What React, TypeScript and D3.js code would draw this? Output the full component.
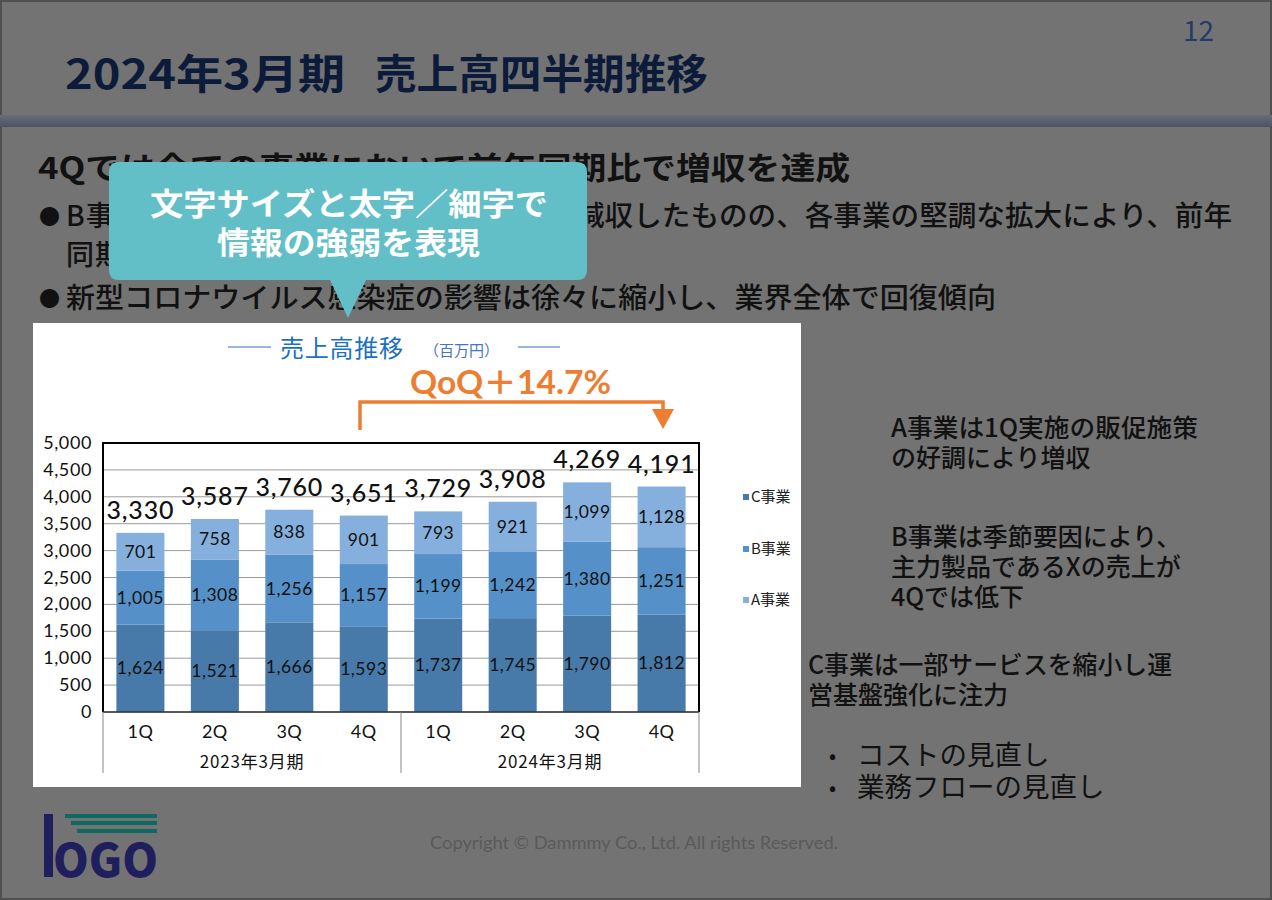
import React from "react";
import * as d3 from "d3";

const quarters = ["1Q", "2Q", "3Q", "4Q", "1Q", "2Q", "3Q", "4Q"];
const fiscalGroups = ["2023年3月期", "2024年3月期"];
const seriesNames = ["C事業", "B事業", "A事業"];
const cValues = [1624, 1521, 1666, 1593, 1737, 1745, 1790, 1812];
const bValues = [1005, 1308, 1256, 1157, 1199, 1242, 1380, 1251];
const aValues = [701, 758, 838, 901, 793, 921, 1099, 1128];
const yTicks = [0, 500, 1000, 1500, 2000, 2500, 3000, 3500, 4000, 4500, 5000];
const seriesColors = ["#4779a9", "#5591c8", "#85afdc"];

const W = 1272;
const H = 900;
const plot = { left: 103, right: 699, top: 443, bottom: 712 };
const jp = "'Noto Sans CJK JP', 'Noto Sans', sans-serif";
const num = "Lato, 'Noto Sans CJK JP', sans-serif";

export default function App() {
  const keys = quarters.map((_, i) => String(i));
  const x = d3.scaleBand<string>().domain(keys).range([plot.left, plot.right]).paddingInner(0.355).paddingOuter(0.18);
  const y = d3.scaleLinear().domain([0, 5000]).range([plot.bottom, plot.top]);
  const rows = quarters.map((_, i) => ({ i: String(i), c: cValues[i], b: bValues[i], a: aValues[i] }));
  const stacked = d3.stack<any>().keys(["c", "b", "a"])(rows);
  const totals = rows.map((r) => r.c + r.b + r.a);
  const fmt = d3.format(",");
  const step = (plot.right - plot.left) / quarters.length;
  const sepXs = [plot.left, plot.left + step * 4, plot.right];

  const qoqStart = 360;
  const qoqEnd = 663;
  const legendY = [497, 549, 600];

  return (
    <div style={{ position: "absolute", left: 0, top: 0 }}>
      <svg width={W} height={H} viewBox={`0 0 ${W} ${H}`} style={{ display: "block" }}>
        <defs>
          <linearGradient id="band" x1="0" y1="0" x2="0" y2="1">
            <stop offset="0" stopColor="#696d78" />
            <stop offset="1" stopColor="#4b5366" />
          </linearGradient>
        </defs>
        {/* slide background (dimmed) */}
        <rect x={0} y={0} width={W} height={H} fill="#737373" />
        <rect x={1} y={1} width={W - 2} height={H - 2} fill="none" stroke="#505050" strokeWidth={2} />
        <text x={1214} y={41} textAnchor="end" fontFamily={jp} fontSize={28} fill="#25396a">12</text>
        <text x={65} y={89} fontFamily={jp} fontSize={41} fontWeight={700} fill="#0d1b3b" textLength={280} lengthAdjust="spacingAndGlyphs">
          2024年3月期
        </text>
        <text x={375} y={89} fontFamily={jp} fontSize={41} fontWeight={700} fill="#0d1b3b" textLength={333} lengthAdjust="spacingAndGlyphs">
          売上高四半期推移
        </text>
        <rect x={0} y={115} width={W} height={12} fill="url(#band)" />

        <text x={38} y={179} fontFamily={jp} fontSize={31} fontWeight={700} fill="#111" textLength={812} lengthAdjust="spacingAndGlyphs">
          4Qでは全ての事業において前年同期比で増収を達成
        </text>
        <text x={39} y={224} fontFamily={jp} fontSize={21} fill="#111">●</text>
        <text x={66} y={226} fontFamily={jp} fontSize={28} fontWeight={500} fill="#111" letterSpacing={1}>
          B事業は季節要因により一時的に
        </text>
        <text x={576} y={226} fontFamily={jp} fontSize={28} fontWeight={500} fill="#111" textLength={656} lengthAdjust="spacingAndGlyphs">
          減収したものの、各事業の堅調な拡大により、前年
        </text>
        <text x={66} y={265} fontFamily={jp} fontSize={28} fontWeight={500} fill="#111" letterSpacing={1}>
          同期比で増収
        </text>
        <text x={39} y={306} fontFamily={jp} fontSize={21} fill="#111">●</text>
        <text x={66} y={308} fontFamily={jp} fontSize={28} fontWeight={500} fill="#111" textLength={930} lengthAdjust="spacingAndGlyphs">
          新型コロナウイルス感染症の影響は徐々に縮小し、業界全体で回復傾向
        </text>

        {/* callout */}
        <path d="M119,162 H577 Q587,162 587,172 V270 Q587,280 577,280 H366 L348,318 L330,280 H119 Q109,280 109,270 V172 Q109,162 119,162 Z" fill="#62bfc8" />
        <text x={150} y={215} fontFamily={jp} fontSize={31} fontWeight={700} fill="#fff" textLength={398} lengthAdjust="spacingAndGlyphs">
          文字サイズと太字／細字で
        </text>
        <text x={217} y={254} fontFamily={jp} fontSize={31} fontWeight={700} fill="#fff" textLength={263} lengthAdjust="spacingAndGlyphs">
          情報の強弱を表現
        </text>

        {/* chart box */}
        <rect x={33} y={323} width={768} height={464} fill="#fff" />
        <line x1={228} x2={271} y1={347} y2={347} stroke="#2f6fb8" strokeWidth={1} />
        <text x={280} y={357} fontFamily={jp} fontSize={24} fill="#1b70c2" textLength={123}>売上高推移</text>
        <text x={424} y={356} fontFamily={jp} fontSize={15} fill="#4474c6">（百万円）</text>
        <line x1={518} x2={560} y1={347} y2={347} stroke="#2f6fb8" strokeWidth={1} />

        <text x={410} y={394} fontFamily={num} fontSize={32} fontWeight={700} fill="#ed7d31" textLength={201} lengthAdjust="spacingAndGlyphs">
          QoQ＋14.7%
        </text>
        <path d={`M${qoqStart},430 V402 H${qoqEnd} V414`} fill="none" stroke="#ed7d31" strokeWidth={3.5} />
        <path d={`M${qoqEnd - 11},409 L${qoqEnd + 11},409 L${qoqEnd},429 Z`} fill="#ed7d31" />

        {/* gridlines */}
        {yTicks.map((t) => (
          <line key={"g" + t} x1={plot.left} x2={plot.right} y1={y(t)} y2={y(t)} stroke="#9a9a9a" strokeWidth={1} />
        ))}
        {yTicks.map((t) => (
          <text key={"yt" + t} x={92} y={y(t) + 6} textAnchor="end" fontFamily={num} fontSize={18} fill="#111" letterSpacing={0.6}>
            {fmt(t)}
          </text>
        ))}

        {/* bars */}
        {stacked.map((s, si) => (
          <g key={"s" + si}>
            {s.map((d: any, i: number) => (
              <rect key={i} x={x(String(i))} width={x.bandwidth()} y={y(d[1])} height={y(d[0]) - y(d[1])} fill={seriesColors[si]} />
            ))}
          </g>
        ))}
        {stacked.map((s, si) => (
          <g key={"sl" + si}>
            {s.map((d: any, i: number) => (
              <text key={"l" + i} x={(x(String(i)) as number) + x.bandwidth() / 2} y={(y(d[0]) + y(d[1])) / 2 + 6}
                textAnchor="middle" fontFamily={num} fontSize={17.5} fill="#111" letterSpacing={0.5}>
                {fmt(d[1] - d[0])}
              </text>
            ))}
          </g>
        ))}
        {totals.map((t, i) => (
          <text key={"t" + i} x={(x(String(i)) as number) + x.bandwidth() / 2} y={y(t) - 14} textAnchor="middle"
            fontFamily={num} fontSize={25} fontWeight={500} fill="#111" letterSpacing={0.8}>
            {fmt(t)}
          </text>
        ))}

        {/* frame */}
        <line x1={plot.left} x2={plot.right} y1={plot.top} y2={plot.top} stroke="#000" strokeWidth={2} />
        <line x1={plot.left} x2={plot.left} y1={plot.top - 1} y2={plot.bottom} stroke="#000" strokeWidth={2} />
        <line x1={plot.right} x2={plot.right} y1={plot.top - 1} y2={plot.bottom} stroke="#000" strokeWidth={2} />
        <line x1={plot.left} x2={plot.right} y1={plot.bottom} y2={plot.bottom} stroke="#333" strokeWidth={1.5} />

        {/* category axis */}
        {sepXs.map((sx, i) => (
          <line key={"sep" + i} x1={sx} x2={sx} y1={plot.bottom} y2={773} stroke="#888" strokeWidth={1} />
        ))}
        {quarters.map((q, i) => (
          <text key={"q" + i} x={(x(String(i)) as number) + x.bandwidth() / 2} y={738} textAnchor="middle"
            fontFamily={num} fontSize={18} fill="#111" letterSpacing={0.5}>
            {q}
          </text>
        ))}
        {fiscalGroups.map((g, gi) => (
          <text key={"fg" + gi} x={plot.left + step * (gi * 4 + 2)} y={768} textAnchor="middle" fontFamily={jp}
            fontSize={17} fill="#111" letterSpacing={0.8}>
            {g}
          </text>
        ))}

        {/* legend */}
        {seriesNames.map((n, i) => (
          <g key={"lg" + i}>
            <rect x={743} y={legendY[i] - 3} width={6} height={6} fill={seriesColors[i]} />
            <text x={751} y={legendY[i] + 5} fontFamily={jp} fontSize={15} fill="#222">{n}</text>
          </g>
        ))}

        {/* right notes */}
        <g fontFamily={jp} fontSize={25} fontWeight={500} fill="#111">
          <text x={891} y={437} textLength={307} lengthAdjust="spacingAndGlyphs">A事業は1Q実施の販促施策</text>
          <text x={891} y={467}>の好調により増収</text>
          <text x={891} y={546}>B事業は季節要因により、</text>
          <text x={891} y={576}>主力製品であるXの売上が</text>
          <text x={891} y={606}>4Qでは低下</text>
          <text x={808} y={674} textLength={364} lengthAdjust="spacingAndGlyphs">C事業は一部サービスを縮小し運</text>
          <text x={808} y={704}>営基盤強化に注力</text>
          <text x={829} y={763} fontSize={20}>•</text>
          <text x={857} y={765} fontWeight={400} fontSize={27.5}>コストの見直し</text>
          <text x={829} y={795} fontSize={20}>•</text>
          <text x={857} y={797} fontWeight={400} fontSize={27.5}>業務フローの見直し</text>
        </g>

        {/* logo */}
        <rect x={65} y={814} width={92} height={4} fill="#0d6a60" />
        <rect x={71} y={821} width={86} height={4} fill="#0d6a60" />
        <rect x={77} y={829} width={80} height={4} fill="#0d6a60" />
        <rect x={44} y={814} width={9} height={63} fill="#1f1f5e" />
        <text x={53} y={877} fontFamily={jp} fontSize={46} fontWeight={900} fill="#1f1f5e" textLength={105} lengthAdjust="spacingAndGlyphs">
          OGO
        </text>

        <text x={430} y={849} fontFamily={num} fontSize={17} fill="#5a5a5a" textLength={408} lengthAdjust="spacingAndGlyphs">
          Copyright © Dammmy Co., Ltd. All rights Reserved.
        </text>
      </svg>
    </div>
  );
}
